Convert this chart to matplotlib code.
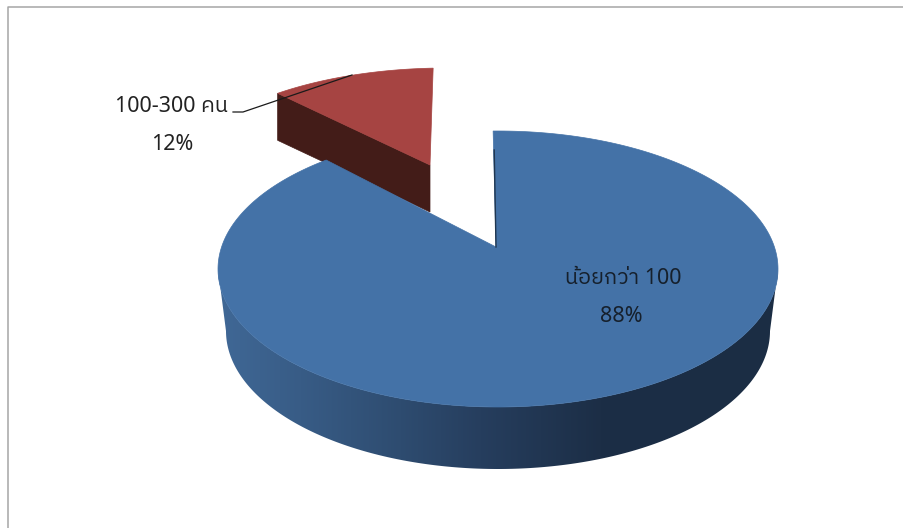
import numpy as np
import matplotlib
matplotlib.use('Agg')
import matplotlib.pyplot as plt
from matplotlib.patches import Polygon

labels = ['น้อยกว่า 100', '100-300 คน']
shares = [88, 12]

plt.rcParams['font.family'] = ['Noto Sans', 'IBM Plex Sans Thai', 'DejaVu Sans']

BLUE = '#4472a7'
RED = '#a64442'
RED_SIDE = '#431c18'
# wall shade from left to right
shade_x = [219, 300, 400, 480, 600, 778]
shade_r = [64, 56, 46, 38, 28, 27]
shade_g = [104, 92, 76, 62, 46, 45]
shade_b = [150, 134, 112, 94, 70, 68]

# pixel coordinates, y going down
fig = plt.figure(figsize=(9.04, 5.28), dpi=100)
ax = fig.add_axes([0, 0, 1, 1])
ax.set_xlim(0, 904)
ax.set_ylim(528, 0)
ax.axis('off')


# end of a ray from the apex on the rim, a in degrees clockwise from up
def rim_param(apex, c, rx, ry, a):
    a = np.radians(a)
    dx, dy = np.sin(a) * rx, -np.cos(a) * ry
    px, py = (apex[0] - c[0]) / rx, (apex[1] - c[1]) / ry
    ux, uy = dx / rx, dy / ry
    A = ux * ux + uy * uy
    B = 2 * (px * ux + py * uy)
    C = px * px + py * py - 1
    s = (-B + np.sqrt(B * B - 4 * A * C)) / (2 * A)
    return np.arctan2(px + s * ux, -(py + s * uy))


def rim(c, rx, ry, t):
    return np.column_stack([c[0] + rx * np.sin(t), c[1] - ry * np.cos(t)])


span_small = 360 * shares[1] / sum(shares)

# small slice, pulled out
r_apex = (430, 165)
r_c = (446, 184)
r_rx = 270
r_depth = 47
t0 = rim_param(r_apex, r_c, r_rx, 116, 0.8)
t1 = rim_param(r_apex, r_c, r_rx, 116, 0.8 - span_small)
arc = rim(r_c, r_rx, 116, np.linspace(t1, t0, 60))
left = arc[0]
ax.add_patch(Polygon([left, left + [0, r_depth], np.add(r_apex, [0, r_depth]), r_apex],
                     fc=RED_SIDE, ec=RED_SIDE, lw=0.5, zorder=1))
ax.add_patch(Polygon(np.vstack([r_apex, arc]), fc=RED, ec=RED, lw=0.5, zorder=2))

# big slice, wall first
c_top = (498, 269)
c_bot = (498, 331)
tt = np.linspace(-np.pi / 2, -3 * np.pi / 2, 241)
top_edge = rim(c_top, 280, 138, tt)
bot_edge = rim(c_bot, 272, 138, tt)
wall = Polygon(np.vstack([top_edge, bot_edge[::-1]]), fc='none', ec='none', zorder=3)
ax.add_patch(wall)
grad_x = np.arange(218, 780)
grad = np.column_stack([np.interp(grad_x, shade_x, shade_r),
                        np.interp(grad_x, shade_x, shade_g),
                        np.interp(grad_x, shade_x, shade_b)]) / 255
im = ax.imshow(grad[np.newaxis, :, :], extent=(218, 780, 480, 260), aspect='auto', zorder=3)
im.set_clip_path(wall)
ax.set_xlim(0, 904)
ax.set_ylim(528, 0)

b_apex = (496, 247)
t0 = rim_param(b_apex, c_top, 280, 138, -0.7)
t1 = rim_param(b_apex, c_top, 280, 138, -0.7 - span_small)
arc = rim(c_top, 280, 138, np.linspace(t0, t1 + 2 * np.pi, 300))
ax.add_patch(Polygon(np.vstack([b_apex, arc]), fc=BLUE, ec=BLUE, lw=0.5, zorder=4))
# inner cut wall, only a thin sliver shows
ax.plot([494.2, b_apex[0]], [150, b_apex[1]], color='#1f3650', lw=1.0, zorder=5)

# frame of the chart area, runs off the picture
ax.plot([904, 8.5, 8.5], [6.5, 6.5, 528], color='#a6a6a6', lw=1.1, zorder=6)

# leader
ax.plot([233, 243, 352], [112, 112, 75], color='#1a1a1a', lw=0.9, zorder=7)

ax.text(172, 106, labels[1], ha='center', va='center', fontsize=15.5, color='#222222', zorder=8)
ax.text(172, 144, '%d%%' % shares[1], ha='center', va='center', fontsize=15.5, color='#222222', zorder=8)
ax.text(623, 279, labels[0], ha='center', va='center', fontsize=15.5, color='#16202c', zorder=8)
ax.text(621, 317, '%d%%' % shares[0], ha='center', va='center', fontsize=15.5, color='#16202c', zorder=8)

fig.savefig('out.png', dpi=100)
